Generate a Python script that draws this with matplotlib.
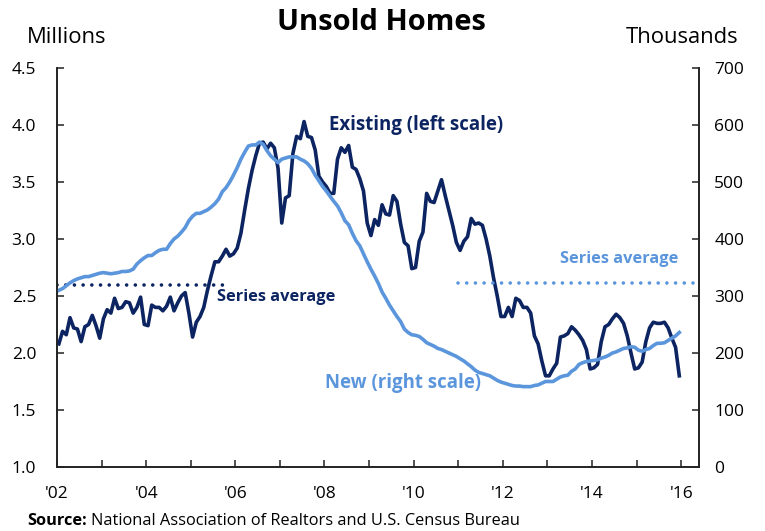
import numpy as np
import matplotlib as mpl
mpl.use('Agg')
import matplotlib.pyplot as plt
from matplotlib.ticker import MultipleLocator, FixedLocator, FormatStrFormatter

FONT = ['Open Sans', 'DejaVu Sans']
plt.rcParams['font.family'] = FONT

DARK = '#0c2461'
LIGHT = '#5b96dc'

# monthly, Jan 2002 - Dec 2015
# existing homes for sale, millions (left scale)
existing = [
    2.08, 2.19, 2.16, 2.31, 2.22, 2.21, 2.10, 2.23, 2.25, 2.33, 2.24, 2.13,
    2.30, 2.38, 2.35, 2.48, 2.39, 2.40, 2.45, 2.44, 2.35, 2.40, 2.49, 2.25,
    2.24, 2.42, 2.40, 2.40, 2.37, 2.41, 2.49, 2.37, 2.44, 2.50, 2.53, 2.35,
    2.14, 2.27, 2.32, 2.40, 2.55, 2.68, 2.80, 2.80, 2.85, 2.91, 2.85, 2.87,
    2.92, 3.05, 3.25, 3.44, 3.60, 3.73, 3.84, 3.85, 3.79, 3.84, 3.80, 3.62,
    3.14, 3.36, 3.38, 3.75, 3.90, 3.88, 4.03, 3.90, 3.89, 3.78, 3.55, 3.50,
    3.46, 3.40, 3.40, 3.70, 3.80, 3.76, 3.82, 3.63, 3.61, 3.53, 3.42, 3.14,
    3.03, 3.17, 3.12, 3.30, 3.22, 3.21, 3.38, 3.33, 3.13, 2.97, 2.94, 2.74,
    2.75, 2.98, 3.06, 3.40, 3.33, 3.32, 3.42, 3.52, 3.38, 3.25, 3.12, 2.97,
    2.90, 2.98, 3.02, 3.18, 3.13, 3.14, 3.12, 3.00, 2.85, 2.66, 2.50, 2.32,
    2.32, 2.40, 2.32, 2.48, 2.46, 2.40, 2.40, 2.35, 2.15, 2.08, 1.93, 1.80,
    1.80, 1.86, 1.91, 2.14, 2.15, 2.17, 2.23, 2.20, 2.16, 2.11, 2.03, 1.86,
    1.87, 1.90, 2.10, 2.23, 2.25, 2.30, 2.34, 2.31, 2.26, 2.15, 2.00, 1.86,
    1.87, 1.92, 2.10, 2.22, 2.27, 2.26, 2.26, 2.27, 2.22, 2.13, 2.05, 1.80,
]

# new homes for sale, thousands (right scale)
new = [
    310, 313, 318, 323, 327, 330, 332, 334, 334, 336, 338, 340,
    341, 340, 339, 340, 341, 343, 343, 344, 347, 356, 362, 367,
    371, 371, 376, 380, 382, 382, 392, 400, 405, 412, 420, 432,
    440, 445, 445, 448, 451, 456, 462, 470, 483, 490, 500, 512,
    525, 540, 552, 563, 565, 565, 570, 566, 555, 546, 540, 534,
    540, 542, 544, 544, 544, 540, 537, 532, 524, 512, 502, 492,
    484, 475, 466, 458, 446, 432, 425, 410, 397, 388, 374, 360,
    347, 335, 322, 307, 296, 284, 274, 264, 255, 242, 236, 232,
    231, 229, 224, 218, 215, 212, 208, 206, 203, 200, 197, 194,
    190, 186, 181, 176, 170, 166, 164, 162, 160, 156, 152, 149,
    147, 145, 143, 142, 142, 141, 141, 141, 143, 144, 147, 150,
    150, 150, 154, 158, 160, 161, 168, 172, 180, 183, 185, 186,
    187, 188, 191, 193, 196, 200, 202, 205, 208, 209, 211, 210,
    205, 203, 206, 208, 213, 217, 217, 218, 222, 226, 230, 236,
]

EXISTING_AVG = 2.60
NEW_AVG = 323
EXISTING_AVG_SPAN = (2002.0, 2005.84)
NEW_AVG_SPAN = (2011.0, 2016.4)

year_ticks = list(range(2002, 2017, 2))
year_labels = ["'02", "'04", "'06", "'08", "'10", "'12", "'14", "'16"]

dates = 2002 + (np.arange(len(existing)) + 0.5) / 12

fig = plt.figure(figsize=(7.65, 5.31), dpi=100)
ax = fig.add_axes([0.0745, 0.1205, 0.8392, 0.7515])
ax2 = ax.twinx()

ax.plot(dates, existing, color=DARK, lw=2.6, solid_joinstyle='round', zorder=3)
ax2.plot(dates, new, color=LIGHT, lw=2.6, solid_joinstyle='round', zorder=2)

dot_style = dict(lw=2.6, linestyle=(0, (0.01, 2.4)), dash_capstyle='round')
ax.plot(EXISTING_AVG_SPAN, [EXISTING_AVG] * 2, color=DARK, **dot_style)
ax2.plot(NEW_AVG_SPAN, [NEW_AVG] * 2, color=LIGHT, **dot_style)

ax.set_xlim(2002, 2016.4)
ax.set_ylim(1.0, 4.5)
ax2.set_ylim(0, 700)

ax.yaxis.set_major_locator(MultipleLocator(0.5))
ax.yaxis.set_major_formatter(FormatStrFormatter('%.1f'))
ax2.yaxis.set_major_locator(MultipleLocator(100))
ax.xaxis.set_major_locator(FixedLocator(year_ticks))
ax.set_xticklabels(year_labels)
ax.xaxis.set_minor_locator(MultipleLocator(1))

for a in (ax, ax2):
    a.spines['top'].set_visible(False)
    for s in a.spines.values():
        s.set_linewidth(1.2)
        s.set_color('#222222')
ax.tick_params(axis='both', which='both', direction='in', length=5, width=1.2,
               labelsize=12.5, color='#333333')
ax.tick_params(axis='y', pad=15)
ax.tick_params(axis='x', pad=14)
ax2.tick_params(axis='y', direction='in', length=5, width=1.2, labelsize=12.5,
                pad=11, color='#333333')

ax.text(2010.05, 4.0, 'Existing (left scale)', color=DARK, fontsize=13.4,
        fontweight='bold', ha='center', va='center')
ax.text(2005.59, 2.49, 'Series average', color=DARK, fontsize=11.8,
        fontweight='bold', ha='left', va='center')
ax.text(2015.93, 2.825, 'Series average', color=LIGHT, fontsize=11.8,
        fontweight='bold', ha='right', va='center')
ax.text(2009.75, 1.74, 'New (right scale)', color=LIGHT, fontsize=13.4,
        fontweight='bold', ha='center', va='center')

fig.text(381 / 765, 1 - 23 / 531, 'Unsold Homes', fontsize=21, fontweight='bold',
         ha='center', va='center')
fig.text(27 / 765, 1 - 37 / 531, 'Millions', fontsize=15.8, ha='left', va='center')
fig.text(738 / 765, 1 - 37 / 531, 'Thousands', fontsize=15.8, ha='right', va='center')

src = fig.text(27 / 765, 1 - 521 / 531, 'Source:', fontsize=11.8, fontweight='bold',
               ha='left', va='center')
renderer = fig.canvas.get_renderer()
bb = src.get_window_extent(renderer)
fig.text((bb.x1 + 4) / 765, 1 - 521 / 531,
         'National Association of Realtors and U.S. Census Bureau',
         fontsize=11.8, ha='left', va='center')

fig.savefig('out.png', dpi=100)
